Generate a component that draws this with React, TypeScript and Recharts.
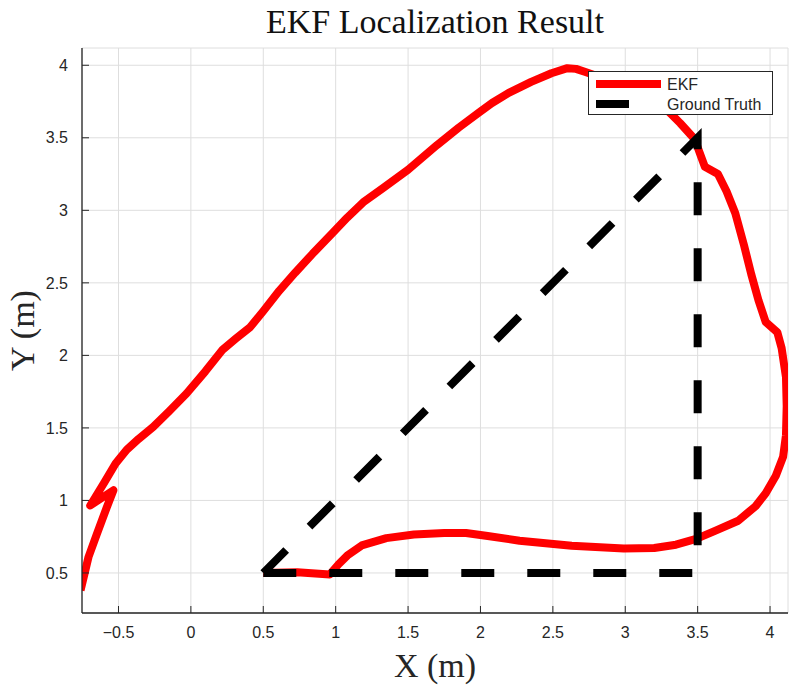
import React from "react";
import {
  LineChart,
  Line,
  XAxis,
  YAxis,
  CartesianGrid,
  Legend,
} from "recharts";

// -------------------------------
// Axis ticks
// -------------------------------
const xTicks = [-0.5, 0, 0.5, 1, 1.5, 2, 2.5, 3, 3.5, 4];
const yTicks = [0.5, 1, 1.5, 2, 2.5, 3, 3.5, 4];

// -------------------------------
// EKF estimate (in travel order)
// -------------------------------
const ekfX = [
  0.5, 0.734, 0.96, 1.02, 1.08, 1.18, 1.35, 1.54, 1.75, 1.9, 2.05, 2.27, 2.63,
  2.99, 3.2, 3.35, 3.49, 3.62, 3.78, 3.9, 3.97, 4.04, 4.09, 4.11, 4.115, 4.11,
  4.08, 4.05, 3.97, 3.92, 3.87, 3.82, 3.76, 3.7, 3.64, 3.55, 3.52, 3.48, 3.38,
  3.3, 3.15, 3.0, 2.85, 2.72, 2.66, 2.6, 2.49, 2.35, 2.195, 2.08, 1.99, 1.85,
  1.7, 1.5, 1.33, 1.19, 1.08, 0.98, 0.84, 0.72, 0.61, 0.5, 0.41, 0.31, 0.22,
  0.1, -0.03, -0.15, -0.26, -0.36, -0.443, -0.52, -0.6, -0.695, -0.535, -0.58,
  -0.649, -0.707, -0.762,
];
const ekfY = [
  0.5, 0.505, 0.49, 0.56, 0.62, 0.69, 0.74, 0.765, 0.775, 0.775, 0.755, 0.722,
  0.688, 0.668, 0.672, 0.695, 0.735, 0.79, 0.86, 0.96, 1.05, 1.17, 1.3, 1.45,
  1.65, 1.85, 2.05, 2.16, 2.23, 2.38, 2.56, 2.76, 2.98, 3.13, 3.25, 3.3, 3.38,
  3.49, 3.6, 3.68, 3.78, 3.85, 3.91, 3.955, 3.975, 3.98, 3.945, 3.885, 3.81,
  3.74, 3.675, 3.57, 3.45, 3.28, 3.155, 3.055, 2.95, 2.845, 2.7, 2.57, 2.445,
  2.305, 2.195, 2.115, 2.04, 1.89, 1.737, 1.615, 1.507, 1.425, 1.35, 1.255,
  1.12, 0.965, 1.07, 0.955, 0.77, 0.61, 0.38,
];

// -------------------------------
// Ground truth path
// -------------------------------
const gtX = [0.5, 3.5, 3.5, 0.5];
const gtY = [0.5, 0.5, 3.5, 0.5];

const ekfData = ekfX.map((x, i) => ({ x, y: ekfY[i] }));
const gtData = gtX.map((x, i) => ({ x, y: gtY[i] }));

const series = [
  { name: "EKF", color: "#ff0000", sample: 65 },
  { name: "Ground Truth", color: "#000000", sample: 33 },
];

const AXIS = "#262626";
const tickFont = {
  fill: AXIS,
  fontSize: 16,
  fontFamily: "'Liberation Sans', Arial, sans-serif",
};
const serif = "'Liberation Serif', 'Times New Roman', serif";

const fmt = (v: number) => (v < 0 ? `\u2212${Math.abs(v)}` : `${v}`);

function LegendBox() {
  return (
    <div
      style={{
        width: 183,
        height: 42,
        border: `1px solid ${AXIS}`,
        background: "#fff",
      }}
    >
      <svg width={183} height={42} style={{ display: "block" }}>
        {series.map((s, i) => (
          <g key={s.name}>
            <line
              x1={7}
              x2={7 + s.sample}
              y1={12 + i * 20}
              y2={12 + i * 20}
              stroke={s.color}
              strokeWidth={8}
            />
            <text
              x={78}
              y={12 + i * 20}
              dy="0.36em"
              fill={AXIS}
              fontSize={16}
              fontFamily="'Liberation Sans', Arial, sans-serif"
            >
              {s.name}
            </text>
          </g>
        ))}
      </svg>
    </div>
  );
}

function YLabel(props: any) {
  const vb = props.viewBox || { x: 0, y: 48, width: 82, height: 565 };
  const cx = 22;
  const cy = vb.y + vb.height / 2;
  return (
    <text
      x={cx}
      y={cy}
      transform={`rotate(-90, ${cx}, ${cy})`}
      textAnchor="middle"
      dominantBaseline="central"
      fontSize={34}
      fontFamily={serif}
      fill={AXIS}
    >
      Y (m)
    </text>
  );
}

export default function App() {
  return (
    <div
      style={{
        position: "absolute",
        left: 0,
        top: 0,
        width: 789,
        height: 685,
        background: "#fff",
      }}
    >
      <div
        style={{
          position: "absolute",
          left: 82,
          top: 0,
          width: 706,
          textAlign: "center",
          fontFamily: serif,
          fontSize: 34,
          lineHeight: "44px",
          color: "#111",
          zIndex: 2,
        }}
      >
        EKF Localization Result
      </div>
      <LineChart
        width={789}
        height={685}
        margin={{ top: 48, right: 1, left: 0, bottom: 0 }}
      >
        <CartesianGrid stroke="#dedede" strokeWidth={1} />
        <XAxis
          dataKey="x"
          type="number"
          domain={[-0.752, 4.124]}
          ticks={xTicks}
          allowDataOverflow
          height={72}
          tickSize={-7}
          tickMargin={21}
          tickFormatter={fmt}
          tick={tickFont}
          axisLine={{ stroke: AXIS, strokeWidth: 1.3 }}
          tickLine={{ stroke: AXIS }}
          label={{
            value: "X (m)",
            position: "insideBottom",
            offset: 8,
            fontSize: 34,
            fontFamily: serif,
            fill: AXIS,
          }}
        />
        <XAxis
          xAxisId="top"
          orientation="top"
          dataKey="x"
          type="number"
          domain={[-0.752, 4.124]}
          ticks={xTicks}
          allowDataOverflow
          height={0}
          tickSize={-7}
          tick={false}
          axisLine={{ stroke: AXIS, strokeWidth: 1.3 }}
          tickLine={{ stroke: AXIS }}
        />
        <YAxis
          dataKey="y"
          type="number"
          domain={[0.224, 4.119]}
          ticks={yTicks}
          allowDataOverflow
          width={82}
          tickSize={-7}
          tickMargin={21}
          tick={tickFont}
          axisLine={{ stroke: AXIS, strokeWidth: 1.3 }}
          tickLine={{ stroke: AXIS }}
          label={<YLabel />}
        />
        <YAxis
          yAxisId="right"
          orientation="right"
          dataKey="y"
          type="number"
          domain={[0.224, 4.119]}
          ticks={yTicks}
          allowDataOverflow
          width={0}
          tickSize={-7}
          tick={false}
          axisLine={{ stroke: AXIS, strokeWidth: 1.3 }}
          tickLine={{ stroke: AXIS }}
        />
        <Line
          data={ekfData}
          dataKey="y"
          name="EKF"
          type="linear"
          stroke="#ff0000"
          strokeWidth={8}
          strokeLinejoin="round"
          dot={false}
          activeDot={false}
          isAnimationActive={false}
        />
        <Line
          data={gtData}
          dataKey="y"
          name="Ground Truth"
          type="linear"
          stroke="#000000"
          strokeWidth={8}
          strokeDasharray="33 33"
          strokeLinecap="butt"
          strokeLinejoin="miter"
          dot={false}
          activeDot={false}
          isAnimationActive={false}
        />
        <Legend
          layout="vertical"
          align="center"
          verticalAlign="middle"
          content={() => <LegendBox />}
          wrapperStyle={{ position: "absolute", left: 588, top: 71, width: 185, height: 44 }}
        />
      </LineChart>
    </div>
  );
}
